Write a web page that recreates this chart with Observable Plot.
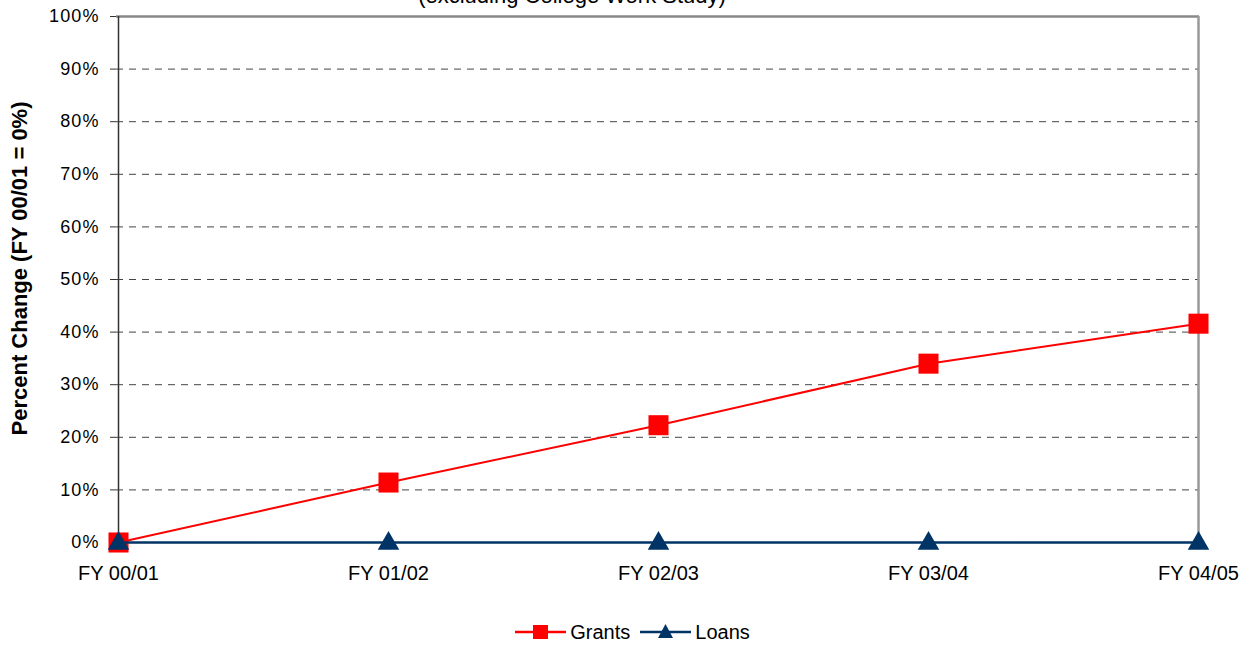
<!DOCTYPE html>
<html>
<head>
<meta charset="utf-8">
<script src="https://cdn.jsdelivr.net/npm/d3@7"></script>
<script src="https://cdn.jsdelivr.net/npm/@observablehq/plot@0.6"></script>
<style>
  html, body { margin: 0; padding: 0; background: #fff; overflow: hidden; }
  body { font-family: "Liberation Sans", Arial, sans-serif; width: 1253px; height: 645px; position: relative; }
  #title { position: absolute; top: -15px; left: 0; width: 1144px; text-align: center; font-size: 22px; line-height: 22px; color: #000; }
  #legend { position: absolute; top: 620px; left: 6px; width: 1253px; display: flex; justify-content: center; align-items: center; font-size: 20px; line-height: 24px; color: #000; }
  #legend .item { display: flex; align-items: center; margin: 0 5px; }
  #legend .item span { margin-left: 4px; }
  #legend svg { display: block; }
  g[aria-label="y-axis tick label"] text { letter-spacing: 1.1px; }
</style>
</head>
<body>
<div id="title">(excluding College Work Study)</div>
<div id="chart"></div>
<div id="legend"></div>
<script>
const years = ["FY 00/01", "FY 01/02", "FY 02/03", "FY 03/04", "FY 04/05"];
const grants = [0, 0.114, 0.223, 0.340, 0.416];
const loans = [0, 0, 0, 0, 0];
const yTicks = [0, 0.1, 0.2, 0.3, 0.4, 0.5, 0.6, 0.7, 0.8, 0.9, 1.0];
const seriesNames = ["Grants", "Loans"];
const seriesColors = ["#ff0000", "#003366"];

const data = [
  ...years.map((y, i) => ({year: y, value: grants[i], series: "Grants"})),
  ...years.map((y, i) => ({year: y, value: loans[i], series: "Loans"}))
];
const gData = data.filter(d => d.series === "Grants");
const lData = data.filter(d => d.series === "Loans");

const chart = Plot.plot({
  width: 1253,
  height: 600,
  marginLeft: 116,
  marginRight: 54,
  marginTop: 16,
  marginBottom: 58,
  style: {fontFamily: "'Liberation Sans', Arial, sans-serif", fontSize: "18px", color: "#000", background: "#fff", overflow: "visible"},
  x: {type: "point", domain: years, padding: 0},
  y: {domain: [0, 1]},
  marks: [
    Plot.ruleY(yTicks.filter(t => t > 0 && t < 1), {stroke: "#444", strokeWidth: 1, strokeDasharray: "7,6", strokeOpacity: 1}),
    Plot.ruleY([1], {stroke: "#888", strokeWidth: 2.5}),
    Plot.ruleX([years[years.length - 1]], {stroke: "#999", strokeWidth: 2.5}),
    Plot.axisY({ticks: yTicks, tickFormat: d3.format(".0%"), tickSize: 6, tickPadding: 11, label: null, fontSize: 18, stroke: "#333"}),
    Plot.axisX({tickSize: 0, tickPadding: 23, label: null, fontSize: 20}),
    Plot.ruleX([years[0]], {stroke: "#333", strokeWidth: 1.5}),
    Plot.text(["Percent Change (FY 00/01 = 0%)"], {frameAnchor: "left", textAnchor: "middle", dx: -97, dy: -11, rotate: -90, fontWeight: "bold", fontSize: 22, fill: "#000"}),
    Plot.line(gData, {x: "year", y: "value", stroke: seriesColors[0], strokeWidth: 2}),
    Plot.dot(gData, {x: "year", y: "value", symbol: "square", r: 11.3, fill: seriesColors[0], stroke: "none"}),
    Plot.line(lData, {x: "year", y: "value", stroke: seriesColors[1], strokeWidth: 2.5}),
    Plot.dot(lData, {x: "year", y: "value", symbol: "triangle", r: 8, fill: seriesColors[1], stroke: "none", dy: 1})
  ]
});
document.getElementById("chart").appendChild(chart);

// legend
const legend = document.getElementById("legend");
seriesNames.forEach((name, i) => {
  const item = document.createElement("div");
  item.className = "item";
  const sym = i === 0
    ? `<rect x="18" y="3" width="15" height="14" fill="${seriesColors[i]}"/>`
    : `<path d="M25.5 2 L33 16 L18 16 Z" fill="${seriesColors[i]}"/>`;
  item.innerHTML = `<svg width="51" height="20"><line x1="0" y1="10" x2="51" y2="10" stroke="${seriesColors[i]}" stroke-width="2.5"/>${sym}</svg><span>${name}</span>`;
  legend.appendChild(item);
});
</script>
</body>
</html>
